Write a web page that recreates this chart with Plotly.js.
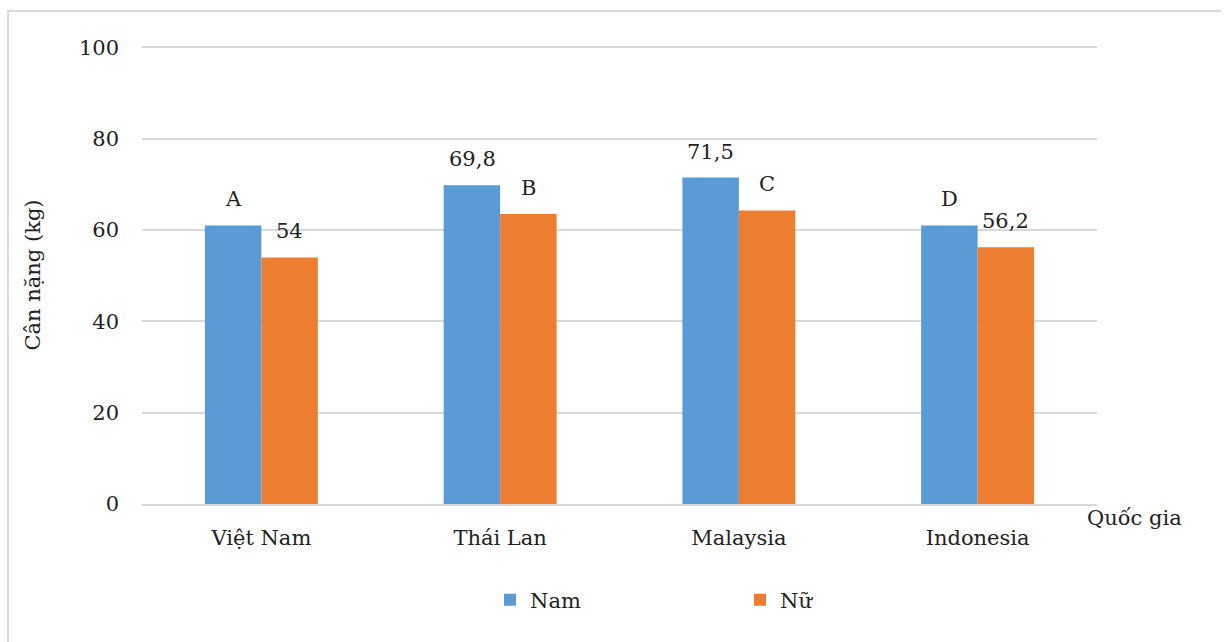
<!DOCTYPE html>
<html>
<head>
<meta charset="utf-8">
<script src="https://cdn.plot.ly/plotly-3.0.1.min.js"></script>
<style>
  html, body { margin: 0; padding: 0; background: #fff; }
  #wrap { position: relative; width: 1225px; height: 642px; }
  #chart { position: absolute; left: 0; top: 0; width: 1225px; height: 642px; }
  #frame { position: absolute; left: 7px; top: 10px; width: 1212px; height: 640px;
           border-top: 2px solid #d9d9d9; border-left: 2px solid #d9d9d9; pointer-events: none; }
</style>
</head>
<body>
<div id="wrap">
  <div id="chart"></div>
  <div id="frame"></div>
</div>
<script>
// Data
const countries = ["Việt Nam", "Thái Lan", "Malaysia", "Indonesia"];
const namValues = [61, 69.8, 71.5, 61];
const nuValues  = [54, 63.5, 64.3, 56.2];
const namLabels = ["A", "69,8", "71,5", "D"];
const nuLabels  = ["54", "B", "C", "56,2"];
const yTicks = [0, 20, 40, 60, 80, 100];

const FONT = "DejaVu Serif";
const FS = 21;
const TXT = "#222";
const BLUE = "#5B9BD5";
const ORANGE = "#ED7D31";

const traces = [
  { type: "bar", name: "Nam", x: countries, y: namValues, marker: { color: BLUE }, hoverinfo: "none" },
  { type: "bar", name: "Nữ", x: countries, y: nuValues, marker: { color: ORANGE }, hoverinfo: "none" }
];

const annotations = [];
countries.forEach((c, i) => {
  annotations.push({ x: c, y: namValues[i], xref: "x", yref: "y", text: namLabels[i], showarrow: false,
    xshift: -28, yshift: 12, yanchor: "bottom", font: { family: FONT, size: FS, color: TXT } });
  annotations.push({ x: c, y: nuValues[i], xref: "x", yref: "y", text: nuLabels[i], showarrow: false,
    xshift: 28, yshift: 12, yanchor: "bottom", font: { family: FONT, size: FS, color: TXT } });
});
annotations.push({ x: 0.987, y: -0.03, xref: "paper", yref: "paper", text: "Quốc gia", showarrow: false,
  xanchor: "left", yanchor: "middle", font: { family: FONT, size: FS, color: TXT } });

const layout = {
  width: 1225, height: 642,
  margin: { l: 142, r: 128, t: 46, b: 138 },
  paper_bgcolor: "rgba(0,0,0,0)", plot_bgcolor: "#fff",
  font: { family: FONT, size: FS, color: TXT },
  barmode: "group", bargap: 0.527, bargroupgap: 0,
  showlegend: true,
  legend: { orientation: "h", x: (490 - 142) / 955, xanchor: "left", y: -0.21, yanchor: "middle",
            entrywidth: 205, font: { family: FONT, size: FS, color: TXT }, bgcolor: "rgba(0,0,0,0)" },
  xaxis: { type: "category", showgrid: false, showline: true, linecolor: "#d9d9d9", linewidth: 2,
           ticks: "", tickfont: { family: FONT, size: FS, color: TXT }, ticklabelstandoff: 14, fixedrange: true },
  yaxis: { range: [0, 100.3], tickvals: yTicks, ticktext: yTicks.map(String), showgrid: true, gridcolor: "#d9d9d9",
           gridwidth: 2, zeroline: false, showline: false, ticks: "", ticklabelstandoff: 22,
           tickfont: { family: FONT, size: FS, color: TXT },
           title: { text: "Cân nặng (kg)", font: { family: FONT, size: FS, color: TXT }, standoff: 32 }, fixedrange: true },
  annotations: annotations
};

Plotly.newPlot("chart", traces, layout, { displayModeBar: false, staticPlot: true });
</script>
</body>
</html>
